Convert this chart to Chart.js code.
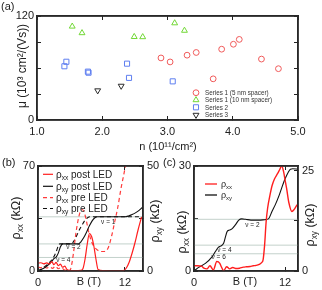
<!DOCTYPE html>
<html><head><meta charset="utf-8">
<script src="https://cdn.jsdelivr.net/npm/chart.js@4"></script>
<style>
html,body{margin:0;padding:0;background:#fff;width:322px;height:290px;overflow:hidden;}
canvas{position:absolute;}
#ca{left:0;top:0;}
#cb{left:0;top:145px;}
#cc{left:160px;top:145px;}
</style></head><body>
<canvas id="ca" width="322" height="155" style="width:322px;height:155px"></canvas>
<canvas id="cb" width="165" height="145" style="width:165px;height:145px"></canvas>
<canvas id="cc" width="162" height="145" style="width:162px;height:145px"></canvas>
<script>
// ---------- Panel (a) data ----------
const s1nm5_n   = [2.90, 3.04, 3.30, 3.44, 3.70, 3.83, 4.01, 4.10, 4.44, 4.70];
const s1nm5_mu  = [71.6, 67.0, 74.8, 77.9, 47.5, 81.7, 87.4, 93.0, 70.3, 59.2];
const s1nm10_n  = [1.54, 1.69, 2.49, 2.62, 3.11, 3.26];
const s1nm10_mu = [108.0, 100.4, 96.0, 95.8, 111.8, 103.2];
const s2_n      = [1.42, 1.45, 1.78, 1.79, 2.38, 2.41, 3.08];
const s2_mu     = [62.0, 67.2, 55.8, 54.6, 65.0, 48.6, 44.6];
const s3_n      = [1.93, 2.29];
const s3_mu     = [34.0, 39.3];
const seriesLabelsA = ['Series 1 (5 nm spacer)', 'Series 1 (10 nm spacer)', 'Series 2', 'Series 3'];
const xTicksA = [1, 2, 3, 4, 5];
const yTicksA = [0, 30, 60, 90, 120];
const yLabelsA = [0, 120];

// ---------- Panel (b) data ----------
const bRxxPost_B = [0,0.4,0.8,1.2,1.6,1.9,2.2,2.5,2.8,3.1,3.4,3.7,4.0,4.3,4.7,5.1,5.5,5.9,6.2,6.5,6.8,7.1,7.4,7.7,8.0,8.3,9.0,10.0,11.0,11.8,12.2,12.6,13.0,13.4,13.8,14.3];
const bRxxPost   = [5.2,5.5,4.8,5.4,4.6,6.3,4.2,5.8,3.5,4.6,2.5,3.2,1.0,0.4,0.3,0.2,0.3,0.4,1.5,8,18,25,23,17,8,1.0,0.2,0.1,0.1,0.3,2,6,12,19,27,36];
const bRxyPost_B = [0,0.5,1.0,1.5,1.9,2.2,2.5,2.8,3.1,3.4,5.6,5.9,6.3,6.7,7.1,7.5,7.9,8.2,12.0,12.5,13.0,13.5,14.0,14.4];
const bRxyPost   = [0,0.8,1.8,3.2,4.6,5.9,6.6,8.5,11.5,12.9,12.9,13.8,15.8,18.5,21.5,24.0,25.5,25.8,25.8,26.2,26.9,27.8,29.0,30.3];
const bRxxPre_B  = [0,0.4,0.8,1.2,1.6,2.0,2.4,2.8,3.2,3.6,4.0,4.4,4.6,4.9,5.2,5.5,5.8,6.1,6.4,6.7,7.0,7.4,7.8,8.2,8.7,9.2,9.7,10.2,10.6,11.0,11.5,12.0,12.3];
const bRxxPre    = [2.5,2.2,3.0,2.0,2.8,1.8,3.2,1.5,2.4,0.8,0.3,0.4,3,12,24,33,39,41,39,33,26,19.5,16,14,13,13,15.5,24,33,42,56,68,76];
const bRxyPre_B  = [0,0.5,1.0,1.5,2.0,2.3,2.6,2.8,3.0,4.6,4.9,5.3,5.7,6.1,6.5,6.9,7.2,14.5];
const bRxyPre    = [0,1.0,2.3,3.8,5.8,7.5,10.0,12.0,12.9,12.9,14.0,16.5,19.5,22.0,24.2,25.5,25.8,25.8];
const bXTicks = [0, 12];
const bYTicks = [0, 35, 70];
const bY2Ticks = [0, 25, 50];
const bYLabels = [0, 70];
const bY2Labels = [0, 50];
const nuLevelsB = [25.8, 12.9, 6.45];
const nuTextB = ['ν = 1', 'ν = 2', 'ν = 4'];
const nuAtB_B = [9.7, 4.9, 3.5];
const nuAtB_R = [23.3, 11.4, 5.2];

// ---------- Panel (c) data ----------
const cRxx_B = [0,0.5,1.0,1.3,1.7,2.1,2.55,3.0,3.4,3.6,3.9,4.3,4.7,5.1,5.6,6.0,6.5,6.9,7.4,7.8,8.2,8.6,8.9,9.1,9.3,9.5,9.7,10.0,10.3,10.6,11.0,11.3,11.55,11.8,12.0,12.2,12.5,12.9,13.2,13.6];
const cRxx   = [1.5,1.5,1.4,0.8,0.6,1.5,0.3,2.7,2.2,1.2,0.1,1.2,0.6,1.0,0.7,0.8,1.1,1.2,1.3,1.5,1.6,1.9,2.4,3.2,7.4,14,18,21.6,24.5,26.3,27.8,29,30,28.4,26,23.6,19.5,17,17.6,19];
const cRxy_B = [0,0.6,1.5,2.4,2.8,3.2,3.5,3.9,4.1,4.35,4.65,5.0,5.45,5.9,6.3,6.8,7.5,8.5,9.3,9.8,10.3,10.7,11.2,11.6,12.0,12.4,12.7,13.0,13.7];
const cRxy   = [0,0.9,1.9,3.6,4.8,5.9,6.2,6.9,8.2,9.8,10.2,10.5,11.5,12.7,13.0,12.9,12.7,12.7,12.8,13.0,15.0,16.5,18.8,21.0,23.0,24.6,25.4,25.5,25.4];
const cXTicks = [0, 12];
const cYTicks = [0, 15, 30];
const cY2Ticks = [0, 12.5, 25];
const cYLabels = [0, 30];
const cY2Labels = [0, 25];
const nuLevelsC = [12.9, 6.45, 4.3];
const nuTextC = ['ν = 2', 'ν = 4', 'ν = 6'];
const nuAtC_B = [7.7, 4.0, 3.25];
const nuAtC_R = [11.6, 5.4, 3.5];

// ---------- helpers ----------
const FONT = '"Liberation Sans", Arial, Helvetica, sans-serif';
const AX = '#222222';
const zip = (xs, ys) => xs.map((x, i) => ({x: x, y: ys[i]}));
function richWidth(ctx, parts, size) {
  let w = 0;
  for (const p of parts) { ctx.font = (p.sub ? size * 0.66 : size) + 'px ' + FONT; w += ctx.measureText(p.t).width; }
  return w;
}
function drawRich(ctx, parts, x, y, size, align, rot, color) {
  ctx.save();
  ctx.translate(x, y);
  if (rot) ctx.rotate(rot);
  const w = richWidth(ctx, parts, size);
  let cx = align === 'center' ? -w / 2 : (align === 'right' ? -w : 0);
  ctx.textBaseline = 'alphabetic';
  ctx.textAlign = 'left';
  ctx.fillStyle = color || '#222';
  const base = size * 0.35;
  for (const p of parts) {
    const s = p.sub ? size * 0.66 : size;
    ctx.font = s + 'px ' + FONT;
    ctx.fillText(p.t, cx, base + (p.sub ? size * 0.22 : 0));
    cx += ctx.measureText(p.t).width;
  }
  ctx.restore();
}
function setTicks(list) { return (s) => { s.ticks = list.map(v => ({value: v})); }; }
function boxFrame(chart) {
  const ctx = chart.ctx, a = chart.chartArea;
  ctx.save();
  ctx.setLineDash([]);
  ctx.strokeStyle = '#2b2b2b';
  ctx.lineWidth = 1.5;
  ctx.beginPath();
  ctx.moveTo(a.left, a.top); ctx.lineTo(a.right, a.top); ctx.lineTo(a.right, a.bottom); ctx.lineTo(a.left, a.bottom); ctx.closePath();
  ctx.stroke();
  ctx.restore();
}
function markerPath(ctx, style, x, y, r, rotDeg) {
  ctx.beginPath();
  if (style === 'circle') { ctx.arc(x, y, r, 0, Math.PI * 2); }
  else if (style === 'rect') { const s = Math.SQRT1_2 * r; ctx.rect(x - s, y - s, 2 * s, 2 * s); }
  else {
    let rad = (rotDeg || 0) * Math.PI / 180;
    ctx.moveTo(x + Math.sin(rad) * r, y - Math.cos(rad) * r);
    rad += 2 * Math.PI / 3; ctx.lineTo(x + Math.sin(rad) * r, y - Math.cos(rad) * r);
    rad += 2 * Math.PI / 3; ctx.lineTo(x + Math.sin(rad) * r, y - Math.cos(rad) * r);
    ctx.closePath();
  }
  ctx.stroke();
}
const tickFont = {family: FONT, size: 11};
const inGrid = {display: true, drawOnChartArea: false, drawTicks: true, tickLength: -4, color: AX, lineWidth: 1};
const axBorder = {display: true, color: AX, width: 1.5};
const baseOpts = {responsive: false, animation: false, events: [], plugins: {legend: {display: false}, tooltip: {enabled: false}}};
function mirrorX(min, max, list) {
  return {type: 'linear', position: 'top', min: min, max: max, afterBuildTicks: setTicks(list), afterFit: s => { s.height = 0; },
          grid: inGrid, border: axBorder, ticks: {display: true, callback: () => '', padding: 0, font: {size: 1}}};
}

// ---------- Chart (a) ----------
const stylesA = [
  {pointStyle: 'circle', pointRadius: 2.9, color: '#f05a5a', rot: 0},
  {pointStyle: 'triangle', pointRadius: 3.4, color: '#72d836', rot: 0},
  {pointStyle: 'rect', pointRadius: 3.6, color: '#5f7ff0', rot: 0},
  {pointStyle: 'triangle', pointRadius: 3.4, color: '#2a2a2a', rot: 180}
];
const dataA = [zip(s1nm5_n, s1nm5_mu), zip(s1nm10_n, s1nm10_mu), zip(s2_n, s2_mu), zip(s3_n, s3_mu)];
new Chart(document.getElementById('ca'), {
  type: 'scatter',
  data: {datasets: dataA.map((d, i) => ({
    label: seriesLabelsA[i], data: d,
    pointStyle: stylesA[i].pointStyle, pointRadius: stylesA[i].pointRadius, pointRotation: stylesA[i].rot,
    borderColor: stylesA[i].color, pointBorderColor: stylesA[i].color, backgroundColor: 'rgba(0,0,0,0)',
    pointBackgroundColor: 'rgba(0,0,0,0)', pointBorderWidth: 1, borderWidth: 1
  }))},
  options: Object.assign({}, baseOpts, {
    layout: {padding: {top: 16, right: 0, left: 0, bottom: 0}},
    scales: {
      x: {type: 'linear', position: 'bottom', min: 1, max: 5, afterBuildTicks: setTicks(xTicksA), afterFit: s => { s.height = 35; },
          grid: inGrid, border: axBorder,
          ticks: {font: tickFont, color: '#222', padding: 9, autoSkip: false, maxRotation: 0, callback: v => Number(v).toFixed(1)}},
      xTop: mirrorX(1, 5, xTicksA),
      y: {type: 'linear', position: 'left', min: 0, max: 120, afterBuildTicks: setTicks(yTicksA), afterFit: s => { s.width = 37; },
          grid: inGrid, border: axBorder,
          ticks: {font: tickFont, color: '#222', padding: 7, autoSkip: false, callback: v => yLabelsA.includes(v) ? String(v) : ''}},
      yR: {type: 'linear', position: 'right', min: 0, max: 120, afterBuildTicks: setTicks(yTicksA), afterFit: s => { s.width = 24; },
          grid: inGrid, border: axBorder, ticks: {callback: () => '', font: {size: 1}, padding: 0}}
    }
  }),
  plugins: [{
    id: 'textsA',
    afterDraw(chart) {
      boxFrame(chart);
      const ctx = chart.ctx;
      ctx.save();
      ctx.fillStyle = '#222'; ctx.font = '11px ' + FONT; ctx.textBaseline = 'top'; ctx.textAlign = 'left';
      ctx.fillText('(a)', 1, 1);
      drawRich(ctx, [{t: 'μ (10³ cm²/(Vs))'}], 22, 66, 12, 'center', -Math.PI / 2);
      drawRich(ctx, [{t: 'n (10¹¹/cm²)'}], 168, 146.5, 11, 'center', 0);
      const rows = [92.7, 100, 107.3, 115];
      stylesA.forEach((st, i) => {
        ctx.strokeStyle = st.color; ctx.lineWidth = 1;
        markerPath(ctx, st.pointStyle, 196, rows[i], st.pointRadius, st.rot);
        drawRich(ctx, [{t: seriesLabelsA[i]}], 205, rows[i], 6.3, 'left', 0, '#333');
      });
      ctx.restore();
    }
  }]
});

// ---------- line-panel builder ----------
function grayLines(levels, xmin, xmax) {
  return levels.map(l => ({data: [{x: xmin, y: l}, {x: xmax, y: l}], yAxisID: 'y2', borderColor: '#c3d1cb', borderWidth: 1, pointRadius: 0}));
}
function lineDs(d, color, axis, dash, w) {
  return {data: d, yAxisID: axis, borderColor: color, borderWidth: w || 1.1, borderDash: dash || [], pointRadius: 0,
          cubicInterpolationMode: 'monotone', fill: false};
}
function lineScales(xmax, xt, yt, ylab, ymax, y2t, y2lab, y2max, lw, rw) {
  return {
    x: {type: 'linear', position: 'bottom', min: 0, max: xmax, afterBuildTicks: setTicks(xt), afterFit: s => { s.height = 19; },
        grid: inGrid, border: axBorder,
        ticks: {font: tickFont, color: '#222', padding: 9, autoSkip: false, maxRotation: 0, callback: v => String(v)}},
    xTop: mirrorX(0, xmax, xt),
    y: {type: 'linear', position: 'left', min: 0, max: ymax, afterBuildTicks: setTicks(yt), afterFit: s => { s.width = lw; },
        grid: inGrid, border: axBorder,
        ticks: {font: tickFont, color: '#222', padding: 7, autoSkip: false, callback: v => ylab.includes(v) ? String(v) : ''}},
    y2: {type: 'linear', position: 'right', min: 0, max: y2max, afterBuildTicks: setTicks(y2t), afterFit: s => { s.width = rw; },
        grid: inGrid, border: axBorder,
        ticks: {font: tickFont, color: '#222', padding: 8, autoSkip: false, callback: v => y2lab.includes(v) ? String(v) : ''}}
  };
}

// ---------- Chart (b) ----------
const legendB = [
  {parts: [{t: 'ρ'}, {t: 'xx', sub: true}, {t: ' post LED'}], color: '#ff1e1e', dash: []},
  {parts: [{t: 'ρ'}, {t: 'xy', sub: true}, {t: ' post LED'}], color: '#111', dash: []},
  {parts: [{t: 'ρ'}, {t: 'xx', sub: true}, {t: ' pre LED'}], color: '#ff3a3a', dash: [4, 3]},
  {parts: [{t: 'ρ'}, {t: 'xy', sub: true}, {t: ' pre LED'}], color: '#111', dash: [4, 3]}
];
new Chart(document.getElementById('cb'), {
  type: 'line',
  data: {datasets: [
    lineDs(zip(bRxxPost_B, bRxxPost), '#ff1e1e', 'y', null, 1.2),
    lineDs(zip(bRxyPost_B, bRxyPost), '#111', 'y2', null, 1.1),
    lineDs(zip(bRxxPre_B, bRxxPre), '#ff3a3a', 'y', [4, 3], 1.2),
    lineDs(zip(bRxyPre_B, bRxyPre), '#111', 'y2', [4, 3], 1.1)
  ].concat(grayLines(nuLevelsB, 0, 14.5))},
  options: Object.assign({}, baseOpts, {
    layout: {padding: {top: 21, right: 0, left: 0, bottom: 0}},
    scales: lineScales(14.5, bXTicks, bYTicks, bYLabels, 70, bY2Ticks, bY2Labels, 50, 38, 22)
  }),
  plugins: [{
    id: 'textsB',
    afterDraw(chart) {
      boxFrame(chart);
      const ctx = chart.ctx, xs = chart.scales.x, yr = chart.scales.y2;
      ctx.save();
      ctx.fillStyle = '#222'; ctx.font = '11px ' + FONT; ctx.textBaseline = 'top'; ctx.textAlign = 'left';
      ctx.fillText('(b)', 2, 12);
      drawRich(ctx, [{t: 'ρ'}, {t: 'xx', sub: true}, {t: ' (kΩ)'}], 16, 73, 12.5, 'center', -Math.PI / 2);
      drawRich(ctx, [{t: 'ρ'}, {t: 'xy', sub: true}, {t: ' (kΩ)'}], 155, 76, 12.5, 'center', -Math.PI / 2);
      drawRich(ctx, [{t: 'B (T)'}], 89, 136, 11, 'center', 0);
      const rows = [29.3, 41.3, 52.7, 63.5];
      legendB.forEach((it, i) => {
        ctx.strokeStyle = it.color; ctx.lineWidth = 1.2; ctx.setLineDash(it.dash);
        ctx.beginPath(); ctx.moveTo(43, rows[i]); ctx.lineTo(53, rows[i]); ctx.stroke();
        ctx.setLineDash([]);
        drawRich(ctx, it.parts, 56, rows[i], 10, 'left', 0, '#222');
      });
      nuTextB.forEach((t, i) => {
        drawRich(ctx, [{t: t}], xs.getPixelForValue(nuAtB_B[i]), yr.getPixelForValue(nuAtB_R[i]), 6.5, 'center', 0, '#222');
      });
      ctx.restore();
    }
  }]
});

// ---------- Chart (c) ----------
const legendC = [
  {parts: [{t: 'ρ'}, {t: 'xx', sub: true}], color: '#ff1e1e'},
  {parts: [{t: 'ρ'}, {t: 'xy', sub: true}], color: '#111'}
];
new Chart(document.getElementById('cc'), {
  type: 'line',
  data: {datasets: [
    lineDs(zip(cRxx_B, cRxx), '#ff1e1e', 'y', null, 1.4),
    lineDs(zip(cRxy_B, cRxy), '#111', 'y2', null, 1.1)
  ].concat(grayLines(nuLevelsC, 0, 13.7))},
  options: Object.assign({}, baseOpts, {
    layout: {padding: {top: 21, right: 0, left: 0, bottom: 0}},
    scales: lineScales(13.7, cXTicks, cYTicks, cYLabels, 30, cY2Ticks, cY2Labels, 26.2, 34, 24)
  }),
  plugins: [{
    id: 'textsC',
    afterDraw(chart) {
      boxFrame(chart);
      const ctx = chart.ctx, xs = chart.scales.x, yr = chart.scales.y2;
      ctx.save();
      ctx.fillStyle = '#222'; ctx.font = '11px ' + FONT; ctx.textBaseline = 'top'; ctx.textAlign = 'left';
      ctx.fillText('(c)', 3, 12);
      drawRich(ctx, [{t: 'ρ'}, {t: 'xx', sub: true}, {t: ' (kΩ)'}], 21.5, 87, 12.5, 'center', -Math.PI / 2);
      drawRich(ctx, [{t: 'ρ'}, {t: 'xy', sub: true}, {t: ' (kΩ)'}], 150, 80, 12.5, 'center', -Math.PI / 2);
      drawRich(ctx, [{t: 'B (T)'}], 85, 136, 11, 'center', 0);
      const rows = [39, 50];
      legendC.forEach((it, i) => {
        ctx.strokeStyle = it.color; ctx.lineWidth = 1.3;
        ctx.beginPath(); ctx.moveTo(45, rows[i]); ctx.lineTo(57, rows[i]); ctx.stroke();
        drawRich(ctx, it.parts, 61, rows[i], 9, 'left', 0, '#222');
      });
      nuTextC.forEach((t, i) => {
        drawRich(ctx, [{t: t}], xs.getPixelForValue(nuAtC_B[i]), yr.getPixelForValue(nuAtC_R[i]), 6.5, 'center', 0, '#222');
      });
      ctx.restore();
    }
  }]
});
</script>
</body></html>
